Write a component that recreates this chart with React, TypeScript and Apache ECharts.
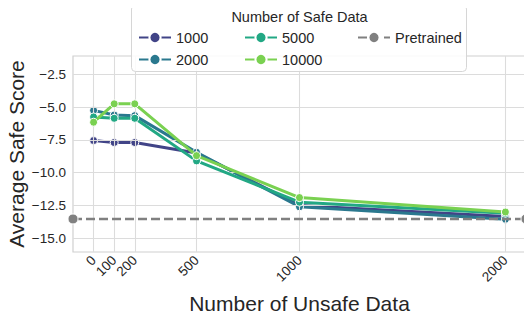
import React, { useEffect, useRef } from "react";
import * as echarts from "echarts";

const unsafeCounts = [0, 100, 200, 500, 1000, 2000];
const safe1000 = [-7.55, -7.7, -7.7, -8.5, -12.5, -13.35];
const safe2000 = [-5.25, -5.6, -5.65, -8.45, -12.6, -13.55];
const safe5000 = [-5.75, -5.85, -5.85, -9.1, -12.25, -13.1];
const safe10000 = [-6.15, -4.75, -4.75, -8.7, -11.9, -13.0];
const pretrainedScore = -13.53;
const xLimits = [-100, 2100];
const yLimits = [-16.05, -1.1];
const yTicks = [-15, -12.5, -10, -7.5, -5, -2.5];
const xTicks = [0, 100, 200, 500, 1000, 2000];
const seriesNames = ["1000", "2000", "5000", "10000"];
const seriesColors = ["#414487", "#2a788e", "#22a884", "#7ad151"];

const FONT = "Liberation Sans, Arial, sans-serif";
const TEXT = "#262626";

export default function App() {
  const ref = useRef<HTMLDivElement>(null);
  useEffect(() => {
    if (!ref.current) return;
    const chart = echarts.init(ref.current, undefined, { renderer: "svg" });
    const allSeries = [safe1000, safe2000, safe5000, safe10000];
    const dataSeries = allSeries.map((vals, i) => ({
      name: seriesNames[i],
      type: "line",
      z: 3 + i,
      data: unsafeCounts.map((x, j) => [x, vals[j]]),
      symbol: "circle",
      symbolSize: 8,
      lineStyle: { width: 3, color: seriesColors[i] },
      itemStyle: { color: seriesColors[i], borderColor: "#ffffff", borderWidth: 1 },
    }));
    const legendText = { fontSize: 14.5, color: TEXT, fontFamily: FONT };
    const mkLegend = (data: string[], left: number) => ({
      data,
      left,
      top: 25,
      orient: "vertical",
      itemWidth: 32,
      itemHeight: 14,
      itemGap: 7,
      textStyle: legendText,
      selectedMode: false,
      z: 20,
    });
    chart.setOption({
      animation: false,
      backgroundColor: "#ffffff",
      textStyle: { fontFamily: FONT },
      grid: {
        left: 73,
        right: 6,
        top: 56,
        bottom: 68,
        outerBoundsMode: "none",
        containLabel: false,
        show: true,
        borderColor: "#d0d0d0",
        borderWidth: 1.2,
        backgroundColor: "transparent",
      },
      xAxis: {
        type: "value",
        min: xLimits[0],
        max: xLimits[1],
        name: "Number of Unsafe Data",
        nameLocation: "middle",
        nameGap: 41,
        nameMoveOverlap: false,
        nameTextStyle: { fontSize: 21, color: TEXT, fontFamily: FONT },
        axisLine: { show: false },
        axisTick: { show: false },
        splitLine: { show: false },
        axisLabel: {
          customValues: xTicks,
          rotate: 45,
          fontSize: 13.5,
          color: TEXT,
          fontFamily: FONT,
          margin: 6,
          showMinLabel: true,
          showMaxLabel: true,
          formatter: (v: number) => String(v),
        },
      },
      yAxis: {
        type: "value",
        min: yLimits[0],
        max: yLimits[1],
        name: "Average Safe Score",
        nameLocation: "middle",
        nameGap: 46,
        nameMoveOverlap: false,
        nameTextStyle: { fontSize: 21, color: TEXT, fontFamily: FONT },
        axisLine: { show: false },
        axisTick: { show: false },
        splitLine: { show: false },
        axisLabel: {
          customValues: yTicks,
          fontSize: 13.5,
          color: TEXT,
          fontFamily: FONT,
          margin: 7,
          formatter: (v: number) => v.toFixed(1).replace("-", "\u2212"),
        },
      },
      legend: [
        mkLegend(["1000", "2000"], 133),
        mkLegend(["5000", "10000"], 239),
        mkLegend(["Pretrained"], 352),
      ],
      graphic: [
        {
          type: "rect",
          z: 10,
          shape: { x: 131.5, y: 5, width: 335, height: 66.5, r: 4 },
          style: { fill: "rgba(255,255,255,0.85)", stroke: "#d6d6d6", lineWidth: 1 },
        },
        {
          type: "text",
          z: 11,
          x: 299.5,
          y: 17,
          style: {
            text: "Number of Safe Data",
            fontSize: 14.5,
            fontFamily: FONT,
            fill: TEXT,
            align: "center",
            verticalAlign: "middle",
          },
        },
      ],
      series: [
        {
          name: "__grid",
          type: "line",
          z: 1,
          data: [],
          silent: true,
          markLine: {
            silent: true,
            symbol: ["none", "none"],
            label: { show: false },
            lineStyle: { color: "#dcdcdc", type: "solid", width: 1.1 },
            emphasis: { disabled: true },
            data: [
              ...yTicks.map((v) => ({ yAxis: v })),
              ...xTicks.map((v) => ({ xAxis: v })),
            ],
          },
        },
        ...dataSeries,
        {
          name: "Pretrained",
          type: "line",
          z: 8,
          data: [
            [xLimits[0], pretrainedScore],
            [xLimits[1], pretrainedScore],
          ],
          symbol: "circle",
          symbolSize: 10,
          lineStyle: { width: 2.6, color: "#808080", type: [9, 4] },
          itemStyle: { color: "#808080", borderColor: "#ffffff", borderWidth: 1 },
        },
      ],
    });
    return () => chart.dispose();
  }, []);
  return <div ref={ref} style={{ width: 532, height: 320, margin: -8 }} />;
}
